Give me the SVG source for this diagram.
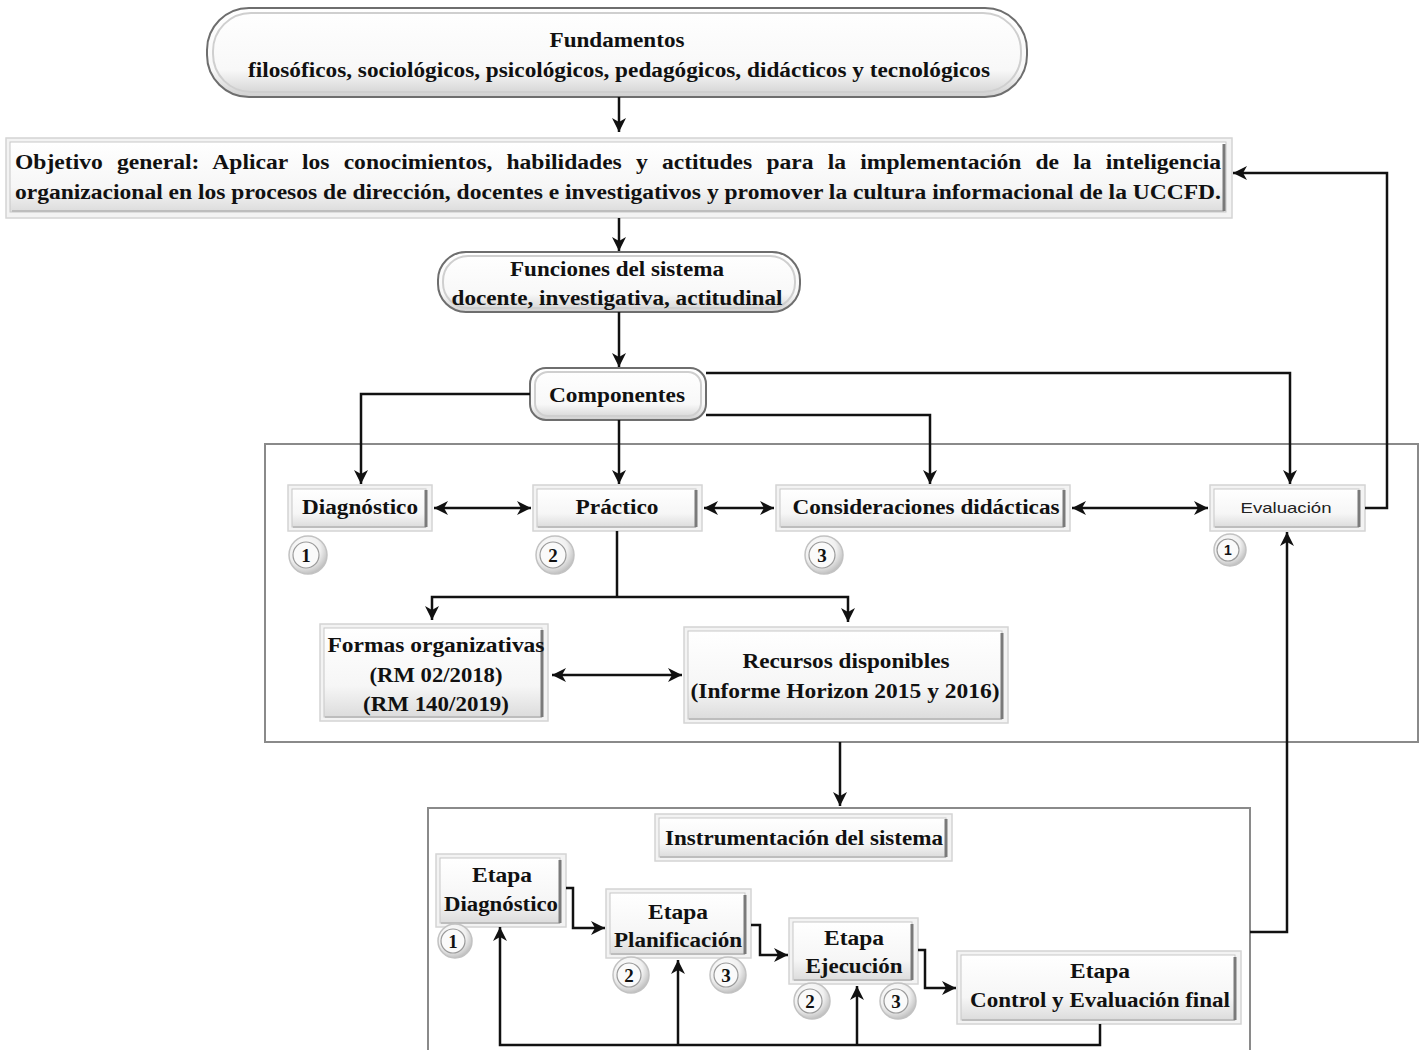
<svg xmlns="http://www.w3.org/2000/svg" width="1424" height="1050" viewBox="0 0 1424 1050">
<defs>
<linearGradient id="bg" x1="0" y1="0" x2="0" y2="1">
<stop offset="0" stop-color="#ffffff"/><stop offset="0.65" stop-color="#f6f6f6"/><stop offset="1" stop-color="#dcdcdc"/>
</linearGradient>
<linearGradient id="pg" x1="0" y1="0" x2="0" y2="1">
<stop offset="0" stop-color="#ffffff"/><stop offset="0.7" stop-color="#f8f8f8"/><stop offset="1" stop-color="#d0d0d0"/>
</linearGradient>
<radialGradient id="cg" cx="0.4" cy="0.35" r="0.7">
<stop offset="0" stop-color="#ffffff"/><stop offset="0.6" stop-color="#f0f0f0"/><stop offset="1" stop-color="#b8b8b8"/>
</radialGradient>
<marker id="ah" viewBox="0 0 14 14" refX="14" refY="7" markerWidth="14" markerHeight="14" markerUnits="userSpaceOnUse" orient="auto-start-reverse">
<path d="M0,0 L14,7 L0,14 L4,7 z" fill="#111"/>
</marker>
</defs>
<style>
.frame{fill:#f3f3f3;stroke:#d4d4d4;stroke-width:1.5}
.inner{fill:url(#bg);stroke:#c8c8c8;stroke-width:1}
.edge{fill:none;stroke:#7a7a7a;stroke-width:3}
.bot{fill:none;stroke:#bdbdbd;stroke-width:2}
.pill{fill:url(#pg);stroke:#6e6e6e;stroke-width:2}
.pillin{fill:none;stroke:#cfcfcf;stroke-width:2}
.cont{fill:none;stroke:#8a8a8a;stroke-width:2}
.t{font-family:"Liberation Serif","Times New Roman",serif;font-weight:bold;font-size:20px;fill:#111;text-anchor:middle}
.ts{font-family:"Liberation Sans",Arial,sans-serif;font-size:15px;fill:#222;text-anchor:middle}
.c1{fill:url(#cg);stroke:#c2c2c2;stroke-width:1.5}
.c2{fill:#fafafa;stroke:#9a9a9a;stroke-width:1.2}
.cn{font-family:"Liberation Serif",serif;font-weight:bold;font-size:19px;fill:#111;text-anchor:middle}
.cns{font-family:"Liberation Sans",sans-serif;font-weight:bold;font-size:14px;fill:#111;text-anchor:middle}
.ln{fill:none;stroke:#111;stroke-width:2.5}
.ar{marker-end:url(#ah)}
.da{marker-start:url(#ah);marker-end:url(#ah)}
</style>

<g id="containers">
<rect class="cont" x="265" y="444" width="1153" height="298"/>
<rect class="cont" x="428" y="808" width="822" height="260"/>
</g>

<g id="fundamentos">
<rect class="pill" x="207" y="8" width="820" height="89" rx="42"/>
<rect class="pillin" x="213" y="13" width="808" height="79" rx="38"/>
<text class="t" x="617" y="47" textLength="135" lengthAdjust="spacingAndGlyphs">Fundamentos</text>
<text class="t" x="619" y="77" textLength="742" lengthAdjust="spacingAndGlyphs">filosóficos, sociológicos, psicológicos, pedagógicos, didácticos y tecnológicos</text>
</g>

<g id="objetivo">
<rect class="frame" x="6" y="138" width="1226" height="80"/>
<rect class="inner" x="10" y="142" width="1216" height="70"/>
<path class="bot" d="M1224,211 H12"/>
<path class="edge" d="M1224,144 V211"/>
<text class="t" x="15" y="169" style="text-anchor:start;word-spacing:7px" textLength="1206" lengthAdjust="spacingAndGlyphs">Objetivo general: Aplicar los conocimientos, habilidades y actitudes para la implementación de la inteligencia</text>
<text class="t" x="15" y="199" style="text-anchor:start" textLength="1206" lengthAdjust="spacingAndGlyphs">organizacional en los procesos de dirección, docentes e investigativos y promover la cultura informacional de la UCCFD.</text>
</g>

<g id="funciones">
<rect class="pill" x="438" y="252" width="362" height="60" rx="28"/>
<rect class="pillin" x="443" y="256" width="352" height="52" rx="25"/>
<text class="t" x="617" y="276" textLength="214" lengthAdjust="spacingAndGlyphs">Funciones del sistema</text>
<text class="t" x="617" y="305" textLength="331" lengthAdjust="spacingAndGlyphs">docente, investigativa, actitudinal</text>
</g>

<g id="componentes">
<rect class="pill" x="530" y="368" width="176" height="52" rx="16"/>
<rect class="pillin" x="535" y="372" width="166" height="44" rx="13"/>
<text class="t" x="617" y="402" textLength="136" lengthAdjust="spacingAndGlyphs">Componentes</text>
</g>

<g id="diagnostico">
<rect class="frame" x="288" y="485" width="144" height="46"/>
<rect class="inner" x="292" y="489" width="134" height="38"/>
<path class="bot" d="M426,527 H293"/><path class="edge" d="M426,490 V527"/>
<text class="t" x="360" y="514" textLength="116" lengthAdjust="spacingAndGlyphs">Diagnóstico</text>
<circle class="c1" cx="308" cy="555" r="19"/><circle class="c2" cx="306" cy="555" r="13"/>
<text class="cn" x="306" y="562">1</text>
</g>

<g id="practico">
<rect class="frame" x="533" y="485" width="169" height="46"/>
<rect class="inner" x="537" y="489" width="159" height="38"/>
<path class="bot" d="M696,527 H538"/><path class="edge" d="M696,490 V527"/>
<text class="t" x="617" y="514" textLength="83" lengthAdjust="spacingAndGlyphs">Práctico</text>
<circle class="c1" cx="555" cy="555" r="19"/><circle class="c2" cx="553" cy="555" r="13"/>
<text class="cn" x="553" y="562">2</text>
</g>

<g id="consideraciones">
<rect class="frame" x="776" y="485" width="294" height="46"/>
<rect class="inner" x="780" y="489" width="284" height="38"/>
<path class="bot" d="M1064,527 H781"/><path class="edge" d="M1064,490 V527"/>
<text class="t" x="926" y="514" textLength="267" lengthAdjust="spacingAndGlyphs">Consideraciones didácticas</text>
<circle class="c1" cx="824" cy="555" r="19"/><circle class="c2" cx="822" cy="555" r="13"/>
<text class="cn" x="822" y="562">3</text>
</g>

<g id="evaluacion">
<rect class="frame" x="1210" y="485" width="155" height="46"/>
<rect class="inner" x="1214" y="489" width="145" height="38"/>
<path class="bot" d="M1359,527 H1215"/><path class="edge" d="M1359,490 V527"/>
<text class="ts" x="1286" y="513" textLength="91" lengthAdjust="spacingAndGlyphs">Evaluación</text>
<circle class="c1" cx="1230" cy="550" r="16"/><circle class="c2" cx="1228" cy="550" r="11"/>
<text class="cns" x="1228" y="555">1</text>
</g>

<g id="formas">
<rect class="frame" x="320" y="624" width="228" height="97"/>
<rect class="inner" x="324" y="628" width="218" height="89"/>
<path class="bot" d="M542,717 H325"/><path class="edge" d="M542,630 V717"/>
<text class="t" x="436" y="652" textLength="217" lengthAdjust="spacingAndGlyphs">Formas organizativas</text>
<text class="t" x="436" y="682" textLength="133" lengthAdjust="spacingAndGlyphs">(RM 02/2018)</text>
<text class="t" x="436" y="711" textLength="146" lengthAdjust="spacingAndGlyphs">(RM 140/2019)</text>
</g>

<g id="recursos">
<rect class="frame" x="684" y="627" width="324" height="96"/>
<rect class="inner" x="688" y="631" width="314" height="88"/>
<path class="bot" d="M1002,719 H689"/><path class="edge" d="M1002,633 V719"/>
<text class="t" x="846" y="668" textLength="207" lengthAdjust="spacingAndGlyphs">Recursos disponibles</text>
<text class="t" x="845" y="698" textLength="309" lengthAdjust="spacingAndGlyphs">(Informe Horizon 2015 y 2016)</text>
</g>

<g id="instrumentacion">
<rect class="frame" x="655" y="814" width="297" height="47"/>
<rect class="inner" x="659" y="818" width="287" height="39"/>
<path class="bot" d="M946,857 H660"/><path class="edge" d="M946,819 V857"/>
<text class="t" x="804" y="845" textLength="278" lengthAdjust="spacingAndGlyphs">Instrumentación del sistema</text>
</g>

<g id="etapa-diagnostico">
<rect class="frame" x="436" y="854" width="130" height="73"/>
<rect class="inner" x="440" y="858" width="120" height="65"/>
<path class="bot" d="M560,923 H441"/><path class="edge" d="M560,860 V923"/>
<text class="t" x="502" y="882" textLength="60" lengthAdjust="spacingAndGlyphs">Etapa</text>
<text class="t" x="501" y="911" textLength="114" lengthAdjust="spacingAndGlyphs">Diagnóstico</text>
<circle class="c1" cx="455" cy="941" r="17"/><circle class="c2" cx="453" cy="941" r="12"/>
<text class="cn" x="453" y="948">1</text>
</g>

<g id="etapa-planificacion">
<rect class="frame" x="606" y="889" width="145" height="69"/>
<rect class="inner" x="610" y="893" width="135" height="61"/>
<path class="bot" d="M745,954 H611"/><path class="edge" d="M745,895 V954"/>
<text class="t" x="678" y="919" textLength="60" lengthAdjust="spacingAndGlyphs">Etapa</text>
<text class="t" x="678" y="947" textLength="128" lengthAdjust="spacingAndGlyphs">Planificación</text>
<circle class="c1" cx="631" cy="975" r="18"/><circle class="c2" cx="629" cy="975" r="12"/>
<text class="cn" x="629" y="982">2</text>
<circle class="c1" cx="728" cy="975" r="18"/><circle class="c2" cx="726" cy="975" r="12"/>
<text class="cn" x="726" y="982">3</text>
</g>

<g id="etapa-ejecucion">
<rect class="frame" x="789" y="918" width="129" height="66"/>
<rect class="inner" x="793" y="922" width="119" height="58"/>
<path class="bot" d="M912,980 H794"/><path class="edge" d="M912,924 V980"/>
<text class="t" x="854" y="945" textLength="60" lengthAdjust="spacingAndGlyphs">Etapa</text>
<text class="t" x="854" y="973" textLength="97" lengthAdjust="spacingAndGlyphs">Ejecución</text>
<circle class="c1" cx="812" cy="1001" r="18"/><circle class="c2" cx="810" cy="1001" r="12"/>
<text class="cn" x="810" y="1008">2</text>
<circle class="c1" cx="898" cy="1001" r="18"/><circle class="c2" cx="896" cy="1001" r="12"/>
<text class="cn" x="896" y="1008">3</text>
</g>

<g id="etapa-control">
<rect class="frame" x="957" y="951" width="284" height="73"/>
<rect class="inner" x="961" y="955" width="274" height="65"/>
<path class="bot" d="M1235,1020 H962"/><path class="edge" d="M1235,957 V1020"/>
<text class="t" x="1100" y="978" textLength="60" lengthAdjust="spacingAndGlyphs">Etapa</text>
<text class="t" x="1100" y="1007" textLength="260" lengthAdjust="spacingAndGlyphs">Control y Evaluación final</text>
</g>

<g id="connectors">
<path class="ln ar" d="M619,97 V132"/>
<path class="ln ar" d="M619,218 V251"/>
<path class="ln ar" d="M619,312 V367"/>
<path class="ln ar" d="M530,394 H361 V484"/>
<path class="ln ar" d="M706,373 H1290 V484"/>
<path class="ln ar" d="M706,415 H930 V484"/>
<path class="ln ar" d="M619,420 V484"/>
<path class="ln da" d="M434,508 H531"/>
<path class="ln da" d="M704,508 H774"/>
<path class="ln da" d="M1072,508 H1208"/>
<path class="ln ar" d="M1365,508 H1387 V173 H1233"/>
<path class="ln" d="M617,531 V597"/>
<path class="ln ar" d="M617,597 H432 V620"/>
<path class="ln ar" d="M617,597 H848 V622"/>
<path class="ln da" d="M552,675 H682"/>
<path class="ln ar" d="M840,742 V806"/>
<path class="ln ar" d="M566,888 H573 V928 H605"/>
<path class="ln ar" d="M751,925 H760 V955 H788"/>
<path class="ln ar" d="M918,950 H925 V988 H956"/>
<path class="ln ar" d="M1100,1024 V1045 H500 V927"/>
<path class="ln ar" d="M678,1045 V960"/>
<path class="ln ar" d="M857,1045 V986"/>
<path class="ln ar" d="M1250,932 H1287 V532"/>
</g>
</svg>
